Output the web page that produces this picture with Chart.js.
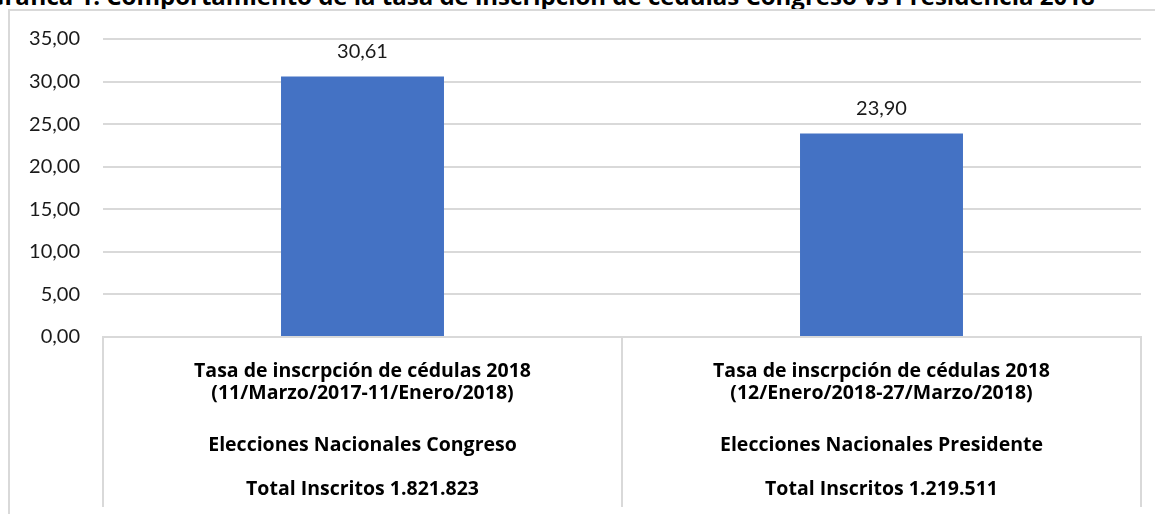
<!DOCTYPE html>
<html>
<head>
<meta charset="utf-8">
<script src="https://cdn.jsdelivr.net/npm/chart.js@4/dist/chart.umd.min.js"></script>
<style>
  html, body { margin: 0; padding: 0; background: #fff; overflow: hidden; }
  #page { position: relative; width: 1155px; height: 514px; overflow: hidden; }
  #title {
    position: absolute; left: -13px; top: -16px; white-space: nowrap;
    font: bold 24px "Open Sans", sans-serif; line-height: 24px; color: #000;
  }
  #frame {
    position: absolute; left: 8px; top: 9px; width: 1200px; height: 600px;
    border: 1px solid #d9d9d9; border-width: 2px 0 0 2px;
  }
  #wrap { position: absolute; left: 0; top: 0; width: 1155px; height: 514px; }
</style>
</head>
<body>
<div id="page">
  <div id="title">Gráfica 1. Comportamiento de la tasa de inscripción de cédulas Congreso vs Presidencia 2018</div>
  <div id="frame"></div>
  <div id="wrap"><canvas id="chart"></canvas></div>
</div>
<script>
// data
const tasaLabels = ['Tasa de inscrpción de cédulas 2018', 'Tasa de inscrpción de cédulas 2018'];
const periodos = ['(11/Marzo/2017-11/Enero/2018)', '(12/Enero/2018-27/Marzo/2018)'];
const elecciones = ['Elecciones Nacionales Congreso', 'Elecciones Nacionales Presidente'];
const totales = ['Total Inscritos 1.821.823', 'Total Inscritos 1.219.511'];
const tasas = [30.61, 23.90];
const yTicks = [0, 5, 10, 15, 20, 25, 30, 35];

const fmt = v => v.toFixed(2).replace('.', ',');

// multi-level label: spread lines over a fine line grid so the gaps match
function buildLabel(i) {
    const lines = new Array(17).fill('');
    lines[0] = tasaLabels[i];
    lines[3] = periodos[i];
    lines[10] = elecciones[i];
    lines[16] = totales[i];
    return lines;
}
const categories = tasas.map((_, i) => buildLabel(i));

const valueLabels = {
    id: 'valueLabels',
    afterDatasetsDraw(chart) {
        const ctx = chart.ctx;
        const meta = chart.getDatasetMeta(0);
        ctx.save();
        ctx.font = '20px Lato, sans-serif';
        ctx.fillStyle = '#1a1a1a';
        ctx.textAlign = 'center';
        ctx.textBaseline = 'middle';
        meta.data.forEach((bar, i) => {
            ctx.fillText(fmt(tasas[i]), bar.x, bar.y - 25);
        });
        ctx.restore();
    }
};

new Chart(document.getElementById('chart'), {
    type: 'bar',
    data: {
        labels: categories,
        datasets: [{
            data: tasas,
            backgroundColor: '#4472C4',
            categoryPercentage: 1,
            barPercentage: 0.314
        }]
    },
    options: {
        responsive: true,
        maintainAspectRatio: false,
        animation: false,
        layout: { padding: { left: 0, right: 14, top: 39, bottom: 0 } },
        plugins: {
            legend: { display: false },
            tooltip: { enabled: false },
            title: { display: false }
        },
        scales: {
            x: {
                afterFit: s => { s.height = 177; },
                border: { display: true, color: '#d9d9d9', width: 2 },
                grid: {
                    offset: true,
                    drawOnChartArea: false,
                    drawTicks: true,
                    tickLength: 170,
                    color: '#d9d9d9',
                    lineWidth: 2
                },
                ticks: {
                    padding: -139.7,
                    color: '#000',
                    font: { family: '"Open Sans", sans-serif', size: 19.5, weight: 'bold', lineHeight: '7.4px' },
                    maxRotation: 0,
                    autoSkip: false
                }
            },
            y: {
                min: 0,
                max: 35,
                afterFit: s => { s.width = 103; },
                afterBuildTicks: s => { s.ticks = yTicks.map(v => ({ value: v })); },
                border: { display: false },
                grid: { color: '#d9d9d9', lineWidth: 2, drawTicks: false },
                ticks: {
                    padding: 23,
                    color: '#1a1a1a',
                    font: { family: 'Lato, sans-serif', size: 20 },
                    callback: v => fmt(v)
                }
            }
        }
    },
    plugins: [valueLabels]
});
</script>
</body>
</html>
